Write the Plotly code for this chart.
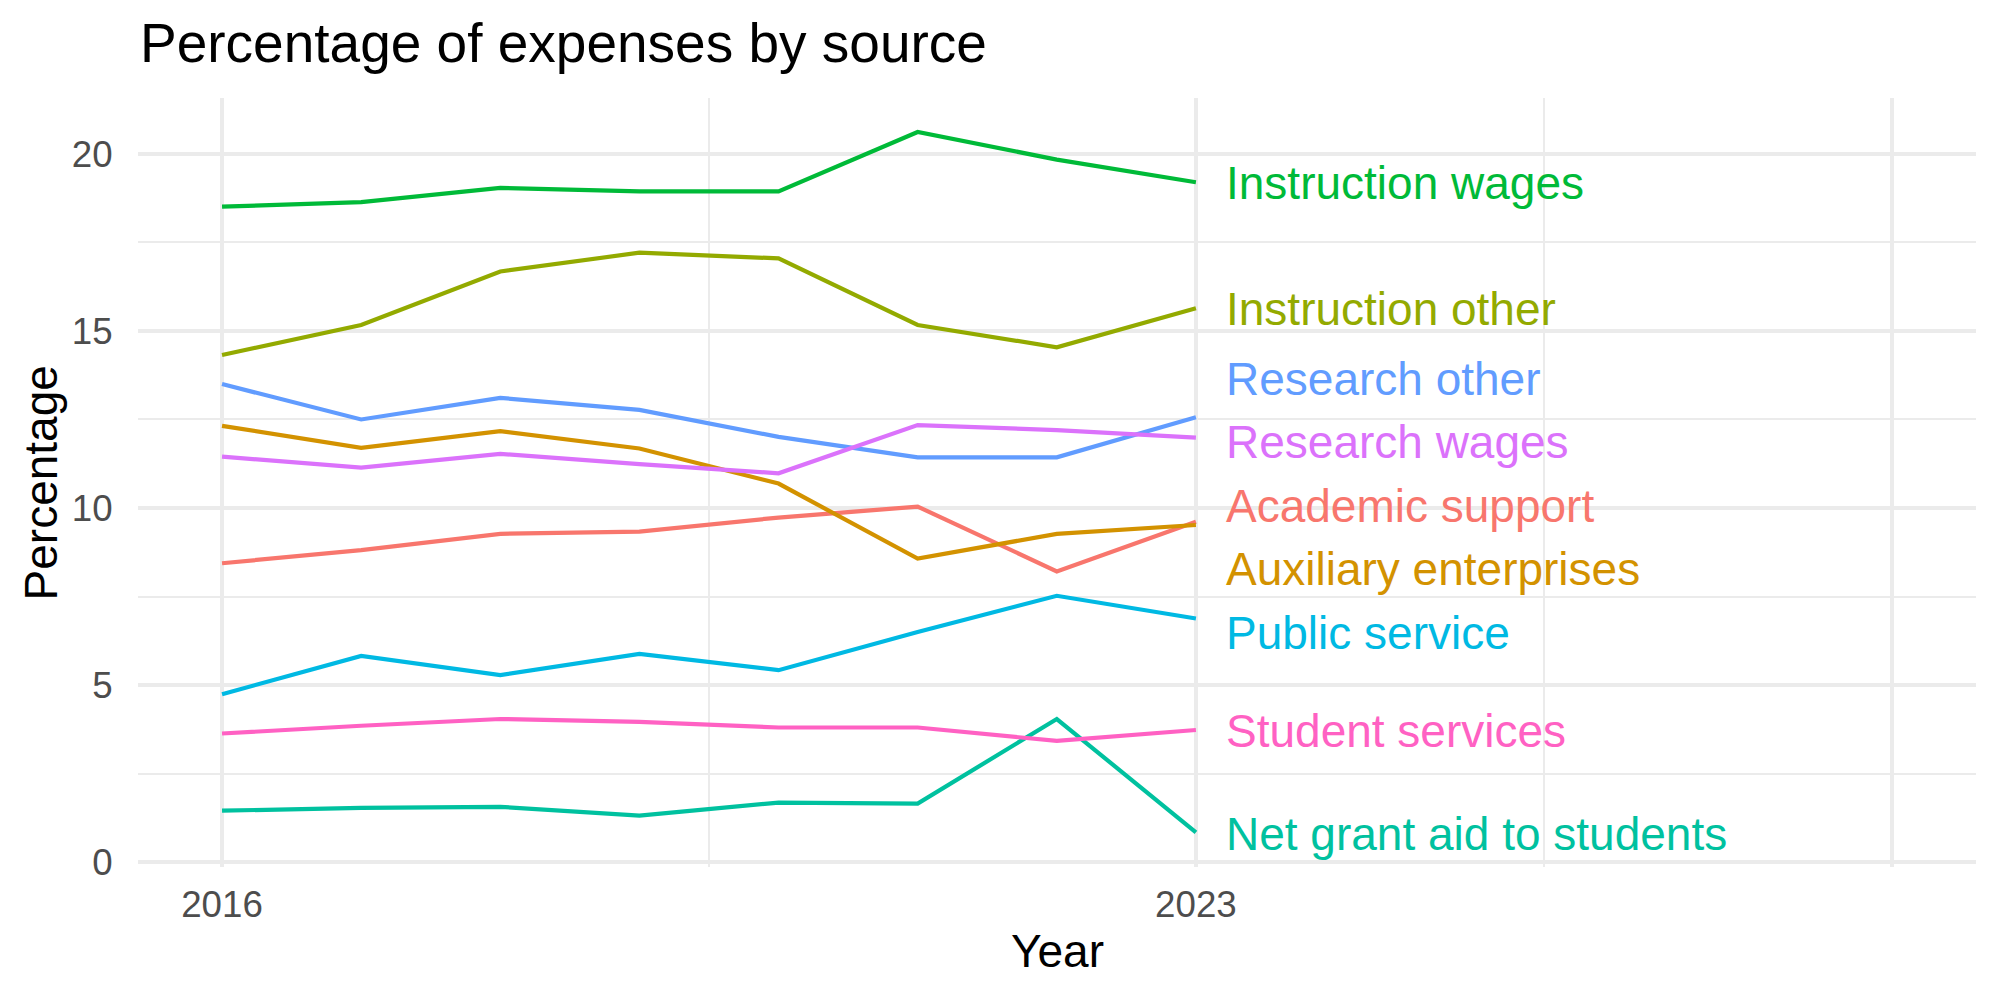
import plotly.graph_objects as go

years = [2016, 2017, 2018, 2019, 2020, 2021, 2022, 2023]

series_names = [
    "Academic support", "Auxiliary enterprises", "Instruction other",
    "Instruction wages", "Net grant aid to students", "Public service",
    "Research other", "Research wages", "Student services",
]
academic_support = [8.44, 8.81, 9.27, 9.33, 9.73, 10.04, 8.21, 9.61]
auxiliary_enterprises = [12.32, 11.70, 12.17, 11.68, 10.69, 8.57, 9.27, 9.52]
instruction_other = [14.32, 15.17, 16.68, 17.21, 17.05, 15.17, 14.54, 15.64]
instruction_wages = [18.51, 18.64, 19.04, 18.94, 18.94, 20.62, 19.84, 19.20]
net_grant_aid = [1.45, 1.53, 1.56, 1.31, 1.68, 1.65, 4.04, 0.84]
public_service = [4.74, 5.82, 5.28, 5.88, 5.42, 6.50, 7.52, 6.88]
research_other = [13.50, 12.50, 13.11, 12.77, 12.01, 11.43, 11.43, 12.56]
research_wages = [11.45, 11.14, 11.53, 11.24, 10.98, 12.34, 12.20, 11.99]
student_services = [3.63, 3.85, 4.04, 3.96, 3.80, 3.80, 3.42, 3.73]

series_values = [
    academic_support, auxiliary_enterprises, instruction_other,
    instruction_wages, net_grant_aid, public_service,
    research_other, research_wages, student_services,
]

# repelled label positions (y, in data units) at the right end
label_y = [10.06, 8.27, 15.62, 19.19, 0.79, 6.48, 13.64, 11.85, 3.70]
label_x = 2023.2

colors = ["#F8766D", "#D39200", "#93AA00", "#00BA38", "#00C19F",
          "#00B9E3", "#619CFF", "#DB72FB", "#FF61C3"]

x_tickvals = [2016, 2023, 2028]
x_ticktext = ["2016", "2023", ""]
x_minor = [2019.5, 2025.5]
y_tickvals = [0, 5, 10, 15, 20]
y_minor = [2.5, 7.5, 12.5, 17.5]

FONT = "Liberation Sans, Arial, sans-serif"
GRID = "#EBEBEB"

fig = go.Figure()
for name, vals, col in zip(series_names, series_values, colors):
    fig.add_trace(go.Scatter(
        x=years, y=vals, mode="lines", name=name,
        line=dict(color=col, width=4.2), showlegend=False,
    ))

annotations = []
for name, ly, col in zip(series_names, label_y, colors):
    annotations.append(dict(
        x=label_x, y=ly, xref="x", yref="y", text=name, showarrow=False,
        xanchor="left", yanchor="middle",
        font=dict(family=FONT, size=46, color=col),
    ))

annotations += [
    dict(x=0, y=1.0715, xref="paper", yref="paper", text="Percentage of expenses by source",
         showarrow=False, xanchor="left", yanchor="middle",
         font=dict(family=FONT, size=55, color="black")),
    dict(x=0.5, y=-0.109, xref="paper", yref="paper", text="Year",
         showarrow=False, xanchor="center", yanchor="middle",
         font=dict(family=FONT, size=46, color="black")),
    dict(x=-0.0528, y=0.5, xref="paper", yref="paper", text="Percentage",
         showarrow=False, xanchor="center", yanchor="middle", textangle=-90,
         font=dict(family=FONT, size=46, color="black")),
]

fig.update_layout(
    width=2000, height=1000,
    margin=dict(l=138, r=24, t=98, b=133),
    paper_bgcolor="white", plot_bgcolor="white",
    annotations=annotations,
    xaxis=dict(
        range=[2015.396, 2028.607], tickvals=x_tickvals, ticktext=x_ticktext,
        showgrid=True, gridcolor=GRID, gridwidth=4, zeroline=False,
        showline=False, ticks="outside", ticklen=5, tickcolor="rgba(0,0,0,0)",
        tickfont=dict(family=FONT, size=36.7, color="#4D4D4D"),
        minor=dict(tickvals=x_minor, showgrid=True, gridcolor=GRID, gridwidth=2),
    ),
    yaxis=dict(
        range=[-0.14, 21.58], tickvals=y_tickvals,
        showgrid=True, gridcolor=GRID, gridwidth=4, zeroline=False,
        showline=False, ticks="outside", ticklen=17, tickcolor="rgba(0,0,0,0)",
        tickfont=dict(family=FONT, size=36.7, color="#4D4D4D"),
        minor=dict(tickvals=y_minor, showgrid=True, gridcolor=GRID, gridwidth=2),
    ),
)

fig.write_html("out.html")
